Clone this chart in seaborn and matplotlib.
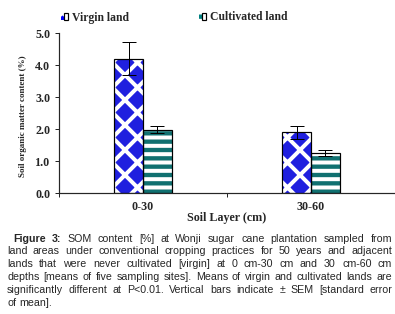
# SOM content by soil layer, virgin vs cultivated land (Wonji), with figure caption
import matplotlib
matplotlib.use("Agg")
import numpy as np
import pandas as pd
import matplotlib.pyplot as plt
import seaborn as sns
from matplotlib.patches import Patch, Rectangle
from matplotlib.legend_handler import HandlerTuple

# Data
layers = ["0-30", "30-60"]
land_types = ["Virgin land", "Cultivated land"]
virgin_mean = [4.20, 1.90]
virgin_sem = [0.52, 0.20]
cultivated_mean = [1.98, 1.25]
cultivated_sem = [0.10, 0.09]
y_ticks = [0.0, 1.0, 2.0, 3.0, 4.0, 5.0]

caption_lines = [
    "Figure 3: SOM content [%] at Wonji sugar cane plantation sampled from",
    "land areas under conventional cropping practices for 50 years and adjacent",
    "lands that were never cultivated [virgin] at 0 cm-30 cm and 30 cm-60 cm",
    "depths [means of five sampling sites]. Means of virgin and cultivated lands are",
    "significantly different at P<0.01. Vertical bars indicate \u00b1 SEM [standard error",
    "of mean].",
]

DPI = 150
W, H = 395, 314


def pt(px):
    # pixel size -> points at this dpi
    return px * 72 / DPI


df = pd.DataFrame({
    "layer": layers * 2,
    "land": [land_types[0]] * 2 + [land_types[1]] * 2,
    "som": virgin_mean + cultivated_mean,
    "sem": virgin_sem + cultivated_sem,
})

sns.set_style("ticks")
plt.rcParams["font.family"] = ["Liberation Serif", "DejaVu Serif"]
plt.rcParams["hatch.linewidth"] = pt(4)

blue = "#0000FF"
teal = "#008080"
hatches = ["xx", "---"]
hatch_lw = [pt(4.0), pt(4)]

fig = plt.figure(figsize=(W / DPI, H / DPI), dpi=DPI)
ax = fig.add_axes([59 / W, 1 - 193 / H, 336 / W, 160 / H])

sns.barplot(data=df, x="layer", y="som", hue="land", hue_order=land_types,
            order=layers, palette=[blue, teal], width=0.34, errorbar=None,
            linewidth=0, ax=ax, legend=False)

# pattern fills (hatch colour = white) + black outlines + SEM bars
bar_containers = list(ax.containers)
for k, cont in enumerate(bar_containers):
    sems = df[df["land"] == land_types[k]]["sem"].values
    for p, s in zip(cont.patches, sems):
        p.set_edgecolor("white")
        p.set_hatch(hatches[k])
        if hasattr(p, "set_hatch_linewidth"):
            p.set_hatch_linewidth(hatch_lw[k])
        ax.add_patch(Rectangle(p.get_xy(), p.get_width(), p.get_height(),
                               fill=False, edgecolor="black", lw=pt(1.2), zorder=3))
        ax.errorbar(p.get_x() + p.get_width() / 2, p.get_height(), yerr=s,
                    fmt="none", ecolor="black", elinewidth=pt(1), capsize=pt(7),
                    capthick=pt(1), zorder=4)

tick_font = dict(family="Liberation Serif", weight="bold", size=pt(12))
ax.set_ylim(0, 5)
ax.set_xlim(-0.5, 1.5)
ax.set_yticks(y_ticks)
ax.set_yticklabels([f"{v:.1f}" for v in y_ticks], fontdict=tick_font)
ax.set_xticks(range(len(layers)))
ax.set_xticklabels(layers, fontdict=tick_font)
ax.set_xticks([-0.5, 0.5, 1.5], minor=True)
ax.tick_params(axis="x", which="major", length=0, pad=pt(8))
ax.tick_params(axis="x", which="minor", length=pt(4), width=pt(1), direction="out")
ax.tick_params(axis="y", length=pt(4), width=pt(1), direction="out", pad=pt(5))
sns.despine(ax=ax)
for s in ["left", "bottom"]:
    ax.spines[s].set_linewidth(pt(1.2))

ax.set_xlabel("Soil Layer (cm)", fontdict=dict(family="Liberation Serif", weight="bold", size=pt(12)))
ax.set_ylabel("Soil organic matter content (%)", fontdict=dict(family="Liberation Serif", weight="bold", size=pt(9)))
ax.xaxis.set_label_coords(0.5, (193 - 212) / 160)
ax.yaxis.set_label_coords((27 - 59) / 336, (193 - 116) / 160)

# legend
handles = [
    (Patch(facecolor=blue, edgecolor="white", hatch=hatches[0], lw=0),
     Patch(fill=False, edgecolor="black", lw=pt(1.2))),
    (Patch(facecolor=teal, edgecolor="white", hatch=hatches[1], lw=0),
     Patch(fill=False, edgecolor="black", lw=pt(1.2))),
]
fig.legend(handles, land_types, loc="upper left", bbox_to_anchor=(61 / W, 1 - 11.5 / H),
           ncol=2, frameon=False, handlelength=0.6, handleheight=0.6,
           handletextpad=0.35, columnspacing=6.0, borderpad=0, borderaxespad=0,
           handler_map={tuple: HandlerTuple(ndivide=None)},
           prop=dict(family="Liberation Serif", weight="bold", size=pt(11.6)))

# justified caption
cap_size = pt(10.6)
renderer = fig.canvas.get_renderer()
x_right = 392
baseline0, step = 241.5, 12.9
for i, line in enumerate(caption_lines):
    words = line.split(" ")
    x_left = 13 if i == 0 else 7
    y = 1 - (baseline0 + i * step) / H
    texts = []
    for j, w in enumerate(words):
        bold = (i == 0 and j < 2)
        t = fig.text(0, y, w, fontsize=cap_size, family="Liberation Sans",
                     weight="bold" if bold else "normal", va="baseline", ha="left")
        texts.append(t)
    widths = [t.get_window_extent(renderer).width for t in texts]
    if i < len(caption_lines) - 1 and len(words) > 1:
        gap = (x_right - x_left - sum(widths)) / (len(words) - 1)
    else:
        gap = cap_size * DPI / 72 * 0.28
    x = x_left
    for t, wd in zip(texts, widths):
        t.set_x(x / W)
        x += wd + gap

fig.savefig("out.png", dpi=DPI)
